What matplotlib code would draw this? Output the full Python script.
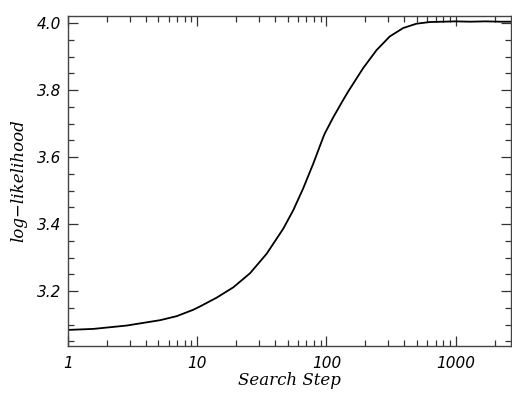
import numpy as np
import matplotlib
matplotlib.use("Agg")
import matplotlib.pyplot as plt
from matplotlib.ticker import FixedLocator, MultipleLocator, LogLocator, NullFormatter

# values
steps = [1, 1.57, 2.84, 5.15, 6.93, 9.3, 10.5, 14.1, 19, 25.6, 34.4, 46.3, 55.3, 66, 79, 94.4, 97,
         113, 135, 147, 192, 244, 309, 392, 497, 630, 800, 1000, 1300, 1700, 2200, 2700]
loglik = [3.084, 3.087, 3.097, 3.113, 3.125, 3.144, 3.154, 3.180, 3.211, 3.253, 3.311, 3.386, 3.441,
          3.506, 3.580, 3.659, 3.670, 3.719, 3.771, 3.795, 3.865, 3.919, 3.960, 3.985, 3.998, 4.003,
          4.004, 4.005, 4.004, 4.005, 4.004, 4.004]

xticks = [1, 10, 100, 1000]
xticklabels = ["1", "10", "100", "1000"]
yticks = [3.2, 3.4, 3.6, 3.8, 4.0]
yticklabels = ["3.2", "3.4", "3.6", "3.8", "4.0"]

fig = plt.figure(figsize=(5.12, 3.94), dpi=100)
ax = fig.add_axes([68 / 512, 48 / 394, 443 / 512, 330 / 394])

ax.plot(steps, loglik, color="black", lw=1.3)

ax.set_xscale("log")
ax.set_xlim(1, 2680)
ax.set_ylim(3.036, 4.021)

ax.xaxis.set_major_locator(FixedLocator(xticks))
ax.set_xticklabels(xticklabels)
ax.xaxis.set_minor_locator(LogLocator(base=10, subs=np.arange(2, 10)))
ax.xaxis.set_minor_formatter(NullFormatter())
ax.yaxis.set_major_locator(FixedLocator(yticks))
ax.set_yticklabels(yticklabels)
ax.yaxis.set_minor_locator(MultipleLocator(0.05))

ax.tick_params(which="both", direction="in", top=True, right=True, color="#333333")
ax.tick_params(which="major", length=7, width=0.9, pad=7)
ax.tick_params(which="minor", length=4, width=0.9)
ax.tick_params(axis="y", which="major", pad=5)
for lab in ax.get_xticklabels() + ax.get_yticklabels():
    lab.set_fontstyle("italic")
    lab.set_fontsize(11)
    lab.set_family("DejaVu Sans")

for sp in ax.spines.values():
    sp.set_linewidth(1.0)
    sp.set_color("#444444")

ax.set_xlabel("Search Step", fontsize=12, family="DejaVu Serif", style="italic", labelpad=1)
ax.set_ylabel("log\u2212likelihood", fontsize=12, family="DejaVu Serif", style="italic", labelpad=7)

fig.savefig("out.png", dpi=100)
